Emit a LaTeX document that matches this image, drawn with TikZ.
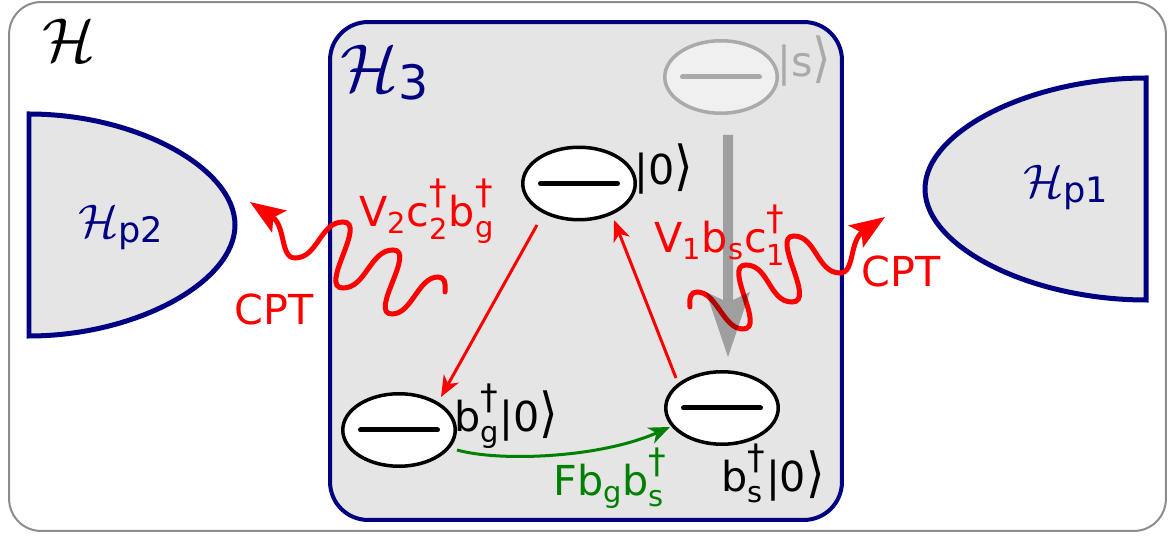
\documentclass[tikz,border=0pt]{standalone}
\usepackage{amsmath}
\usepackage{fontspec}
\setmainfont{DejaVu Sans}
\usetikzlibrary{shapes.geometric,arrows.meta,calc}
\definecolor{navy}{RGB}{0,0,128}
\definecolor{boxgray}{RGB}{229,229,229}
\definecolor{outergray}{RGB}{140,140,140}
\definecolor{sgray}{RGB}{170,170,170}
\definecolor{sfill}{RGB}{240,240,240}
\definecolor{dgreen}{RGB}{0,128,0}
\newcommand\dg{\raisebox{4pt}{\fontsize{20}{20}\selectfont †}}
\newcommand\myket[1]{|#1\scalebox{1.15}[1.3]{⟩}}
\newcommand\bigH[1]{\scalebox{#1}{\fontsize{24.88}{28}\selectfont$\mathcal{H}$}}
\begin{document}
\begin{tikzpicture}[x=0.02cm,y=-0.02cm,
  lbl/.style={inner sep=0pt, anchor=base west, font=\fontsize{23.5}{28}\selectfont},
  state/.style={ellipse, draw=black, fill=white, line width=0.07cm, minimum width=2.25cm, minimum height=1.45cm, inner sep=0pt},
  levelbar/.style={line width=0.1cm, line cap=round},
  thinarrow/.style={line width=0.06cm, -{Stealth[length=0.42cm,width=0.34cm,inset=0.12cm]}},
  wave/.style={red, line width=0.1cm, line cap=round, -{Stealth[length=0.7cm,width=0.52cm,inset=0.14cm]}},
  region/.style={draw=navy, fill=boxgray, line width=0.1cm},
]
\useasboundingbox (0,0) rectangle (1171,536);
% outer Hilbert space
\node (Hbox) [draw=outergray, line width=0.04cm, rounded corners=0.64cm, minimum width=23.14cm, minimum height=10.58cm, inner sep=0] at (587.5,266.5) {};
\node (H) [anchor=base west, inner sep=0] at (42,62) {\bigH{1.42}};
% H3 box
\node (H3box) [draw=navy, fill=boxgray, line width=0.08cm, rounded corners=0.76cm, minimum width=10.24cm, minimum height=9.96cm, inner sep=0] at (586,271) {};
\node (H3) [anchor=base west, inner sep=0, navy] at (340,92) {\bigH{1.55}\raisebox{-0.16cm}{\fontsize{27}{30}\selectfont 3}};
% reservoirs
\draw[region] (29,114) .. controls (136,114) and (235,168) .. (235,225)
  .. controls (235,282) and (136,336) .. (29,336) -- cycle;
\draw[region] (1146,78) .. controls (1031,78) and (925,131) .. (925,189)
  .. controls (925,247) and (1031,300) .. (1146,300) -- cycle;
\node (Hp2) [anchor=base west, inner sep=0, navy] at (78,238) {\bigH{1.08}\raisebox{-0.1cm}{\fontsize{20}{24}\selectfont p2}};
\node (Hp1) [anchor=base west, inner sep=0, navy] at (1023,198) {\bigH{1.08}\raisebox{-0.1cm}{\fontsize{20}{24}\selectfont p1}};
% states
\node[state] (E0) at (579,183.5) {};
\node[state] (Eg) at (399,430) {};
\node[state] (Es) at (722,408) {};
\node[state, draw=sgray, fill=sfill] (Ess) at (721,77) {};
\foreach \n in {E0,Eg,Es}
  \draw[levelbar] ([xshift=-0.77cm]\n.center) -- ([xshift=0.77cm]\n.center);
\draw[levelbar, sgray] ([xshift=-0.77cm]Ess.center) -- ([xshift=0.77cm]Ess.center);
% transitions
\coordinate (r1a) at ($(E0)+(-42,41.5)$);
\coordinate (r1b) at ($(Eg)+(42,-33)$);
\coordinate (r2a) at ($(Es)+(-46,-30)$);
\coordinate (r2b) at ($(E0)+(35,36.5)$);
\coordinate (ga) at ($(Eg)+(58,20)$);
\coordinate (gb) at ($(Es)+(-52,19)$);
\draw[red, thinarrow] (r1a) -- (r1b);
\draw[red, thinarrow] (r2a) -- (r2b);
\draw[dgreen, thinarrow] (ga) .. controls (500,462) and (600,458) .. (gb);
% wavy couplings
\coordinate (wLs) at (445,292);
\coordinate (wLt) at (250,202);
\coordinate (wRs) at (690,307);
\coordinate (wRt) at (885,217);
\draw[wave] (wLs) .. controls (446,282) and (444,277) .. (438,277)
  .. controls (418,277) and (412,314) .. (392,314)
  .. controls (368,314) and (417,250) .. (393,250)
  .. controls (370,250) and (366,288) .. (343,288)
  .. controls (318,288) and (368,222) .. (343,222)
  .. controls (320,222) and (318,258) .. (295,258)
  .. controls (280,258) and (286,226) .. (wLt);
\draw[wave] (wRs) .. controls (689,297) and (691,292) .. (697,292)
  .. controls (717,292) and (723,329) .. (743,329)
  .. controls (767,329) and (722,265) .. (746,265)
  .. controls (769,265) and (769,302) .. (792,302)
  .. controls (817,302) and (770,236) .. (794,236)
  .. controls (816,236) and (817,273) .. (840,273)
  .. controls (855,273) and (849,241) .. (wRt);
% decay arrow (translucent)
\fill[black, opacity=0.3] (723,135) -- (733,135) -- (733,300) -- (750,292) -- (728,357) -- (706,292) -- (723,300) -- cycle;
% labels
\node[lbl] (k0) at (634,185) {\myket{0}};
\node[lbl] (kg) at (454,432) {b$_\text{g}^{\dg}$\myket{0}};
\node[lbl] (ks) at (721,492) {b$_\text{s}^{\dg}$\myket{0}};
\node[lbl, text=sgray] (kss) at (777,77) {\myket{s}};
\node[lbl, red] (V2) at (359,227) {V$_\text{2}$c$_\text{2}^{\dg}$b$_\text{g}^{\dg}$};
\node[lbl, red] (V1) at (654,253) {V$_\text{1}$b$_\text{s}$c$_\text{1}^{\dg}$};
\node[lbl, red] (cptL) at (234,325) {CPT};
\node[lbl, red] (cptR) at (861,287) {CPT};
\node[lbl, dgreen] (Fl) at (553,496) {Fb$_\text{g}$b$_\text{s}^{\dg}$};
\end{tikzpicture}
\end{document}
